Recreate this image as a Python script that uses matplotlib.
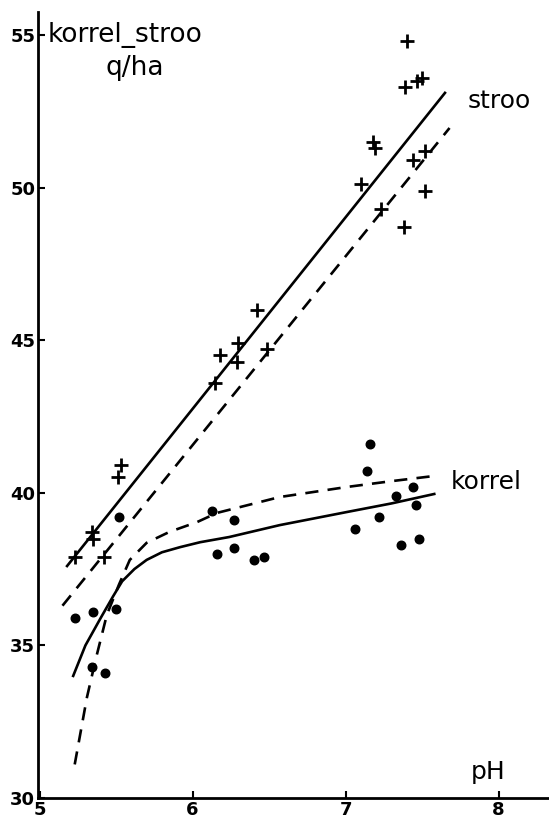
import matplotlib.pyplot as plt

# straw yield (+) and grain yield (dots) against soil pH
stroo_ph = [5.23, 5.34, 5.35, 5.42, 5.51, 5.53, 6.15, 6.18, 6.29, 6.30, 6.42, 6.49,
            7.10, 7.18, 7.19, 7.23, 7.38, 7.39, 7.405, 7.44, 7.47, 7.50, 7.52, 7.52]
stroo_q = [37.9, 38.7, 38.5, 37.9, 40.5, 40.9, 43.6, 44.5, 44.3, 44.9, 46.0, 44.7,
           50.1, 51.5, 51.3, 49.3, 48.7, 53.3, 54.8, 50.9, 53.5, 53.6, 51.2, 49.9]

korrel_ph = [5.23, 5.34, 5.35, 5.43, 5.50, 5.52, 6.13, 6.16, 6.27, 6.27, 6.40, 6.47,
             7.06, 7.14, 7.16, 7.22, 7.33, 7.36, 7.44, 7.46, 7.48]
korrel_q = [35.9, 34.3, 36.1, 34.1, 36.2, 39.2, 39.4, 38.0, 39.1, 38.2, 37.8, 37.9,
            38.8, 40.7, 41.6, 39.2, 39.9, 38.3, 40.2, 39.6, 38.5]

# fitted lines
stroo_fit_ph = [5.18, 7.65]
stroo_fit_q = [37.6, 53.1]
stroo_fit2_ph = [5.15, 7.68]
stroo_fit2_q = [36.3, 51.95]

korrel_fit_ph = [5.22, 5.30, 5.40, 5.48, 5.54, 5.62, 5.70, 5.80, 5.92, 6.05, 6.24, 6.57, 7.01, 7.30, 7.58]
korrel_fit_q = [34.0, 35.0, 35.9, 36.6, 37.1, 37.5, 37.8, 38.05, 38.22, 38.38, 38.55, 38.94, 39.37, 39.65, 39.96]
korrel_fit2_ph = [5.23, 5.27, 5.31, 5.37, 5.44, 5.52, 5.59, 5.70, 5.85, 6.03, 6.16, 6.57, 7.01, 7.30, 7.58]
korrel_fit2_q = [31.1, 32.2, 33.3, 34.6, 36.0, 37.0, 37.8, 38.36, 38.72, 39.04, 39.34, 39.86, 40.19, 40.38, 40.55]

x_ticks = [5, 6, 7, 8]
y_ticks = [30, 35, 40, 45, 50, 55]

plt.rcParams['font.family'] = ['DejaVu Sans']

fig = plt.figure(figsize=(5.49, 8.31), dpi=100)
ax = fig.add_axes([38 / 549, 1 - 798 / 831, 1 - 38 / 549, (798 - 12) / 831])

ax.plot(stroo_fit_ph, stroo_fit_q, color='black', lw=1.9)
ax.plot(stroo_fit2_ph, stroo_fit2_q, color='black', lw=1.9, dashes=(5, 3.5))
ax.plot(korrel_fit_ph, korrel_fit_q, color='black', lw=1.9)
ax.plot(korrel_fit2_ph, korrel_fit2_q, color='black', lw=1.9, dashes=(5, 3.5))

ax.scatter(stroo_ph, stroo_q, marker='+', s=110, color='black', linewidths=2)
ax.scatter(korrel_ph, korrel_q, marker='o', s=38, color='black')

ax.set_xlim(4.99, 8.33)
ax.set_ylim(30, 55.75)
ax.set_xticks(x_ticks)
ax.set_yticks(y_ticks)
ax.tick_params(direction='in', length=5, width=1.5, labelsize=13, pad=2)
for lab in ax.get_xticklabels() + ax.get_yticklabels():
    lab.set_fontweight('bold')

for side in ['top', 'right']:
    ax.spines[side].set_visible(False)
for side in ['left', 'bottom']:
    ax.spines[side].set_linewidth(2)

ax.text(5.05, 55.0, 'korrel_stroo', fontsize=19, va='center', ha='left')
ax.text(5.43, 53.9, 'q/ha', fontsize=19, va='center', ha='left')
ax.text(7.80, 52.85, 'stroo', fontsize=18, va='center', ha='left')
ax.text(7.69, 40.35, 'korrel', fontsize=18, va='center', ha='left')
ax.text(7.82, 30.85, 'pH', fontsize=18, va='center', ha='left')

fig.savefig('out.png', dpi=100)
